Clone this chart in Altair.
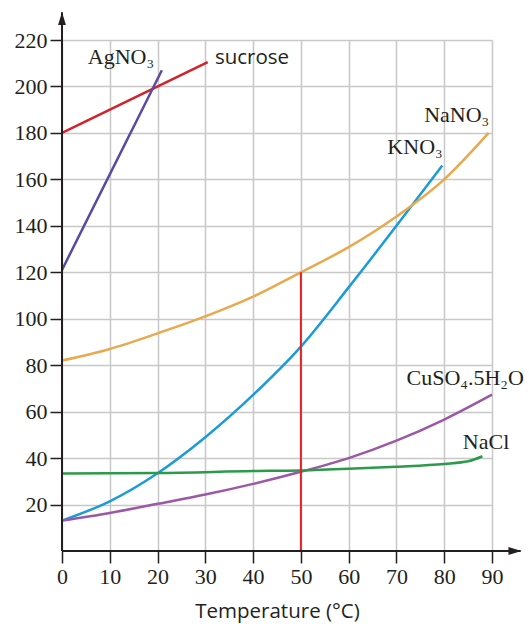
import altair as alt
import pandas as pd

# ---- data ----
sucrose_T = [0, 30.5]
sucrose_S = [180, 210.5]
agno3_T = [0, 20.9]
agno3_S = [121, 207]
kno3_T = [0, 10, 20, 30, 40, 50, 60, 70, 79.6]
kno3_S = [13.1, 21.4, 33.5, 49.0, 67.2, 88, 113.5, 140, 166]
nano3_T = [0, 10, 20, 30, 40, 50, 60, 70, 80, 89.3]
nano3_S = [82, 87, 93.7, 101, 109.5, 120, 130.8, 144, 160, 180]
cuso4_T = [0, 10, 20, 30, 40, 50, 60, 70, 80, 90]
cuso4_S = [13.1, 16.4, 20.3, 24.3, 28.9, 34.1, 40, 47.5, 56.6, 67.3]
nacl_T = [0, 20, 40, 50, 60, 70, 80, 85, 88]
nacl_S = [33.4, 33.6, 34.4, 34.7, 35.4, 36.3, 37.5, 38.6, 40.8]

compounds = ["sucrose", "AgNO3", "KNO3", "NaNO3", "CuSO4.5H2O", "NaCl"]
colors = ["#d3232a", "#5b4b9e", "#1b9bd7", "#e9a94e", "#9b58a6", "#2b9a4a"]

marker_T = [50, 50]
marker_S = [0, 120]

label_text = ["AgNO₃", "NaNO₃", "KNO₃", "CuSO₄.5H₂O", "NaCl"]
label_T = [5.4, 75.8, 68.1, 72.1, 83.9]
label_S = [209.5, 184.9, 171, 71.6, 44.0]
sans_label_text = ["sucrose"]
sans_label_T = [32.0]
sans_label_S = [209.8]

x_ticks = [0, 10, 20, 30, 40, 50, 60, 70, 80, 90]
y_ticks = [20, 40, 60, 80, 100, 120, 140, 160, 180, 200, 220]

# ---- tables ----
series = [
    ("sucrose", sucrose_T, sucrose_S),
    ("AgNO3", agno3_T, agno3_S),
    ("KNO3", kno3_T, kno3_S),
    ("NaNO3", nano3_T, nano3_S),
    ("CuSO4.5H2O", cuso4_T, cuso4_S),
    ("NaCl", nacl_T, nacl_S),
]
rows = []
for name, ts, ss in series:
    for i, (t, s) in enumerate(zip(ts, ss)):
        rows.append({"compound": name, "T": t, "S": s, "i": i})
df = pd.DataFrame(rows)

ink = "#231f20"
xscale = alt.Scale(domain=[0, 90], nice=False, zero=False)
yscale = alt.Scale(domain=[0, 220], nice=False, zero=False)

xaxis = alt.Axis(values=x_ticks, grid=True, gridColor="#c8c8c8", gridWidth=1.5,
                 domain=False, tickColor=ink, tickSize=12, tickWidth=1.5,
                 labelFont="Liberation Serif", labelFontSize=22, labelColor=ink,
                 labelPadding=3, labelFlush=False, labelOverlap=False, format="d",
                 title="Temperature (°C)", titleFont="Open Sans", titleFontSize=20.5,
                 titleFontWeight="normal", titleColor=ink, titlePadding=14)
yaxis = alt.Axis(values=y_ticks, grid=True, gridColor="#c8c8c8", gridWidth=1.5,
                 domain=False, tickColor=ink, tickSize=12, tickWidth=1.5,
                 labelFont="Liberation Serif", labelFontSize=22, labelColor=ink,
                 labelPadding=3, labelFlush=False, labelOverlap=False, format="d",
                 title=None)

X = alt.X("T:Q", scale=xscale, axis=xaxis, title="Temperature (°C)")
Y = alt.Y("S:Q", scale=yscale, axis=yaxis, title=None)

lines = alt.Chart(df).mark_line(strokeWidth=2.5, interpolate="monotone").encode(
    x=X, y=Y,
    color=alt.Color("compound:N", scale=alt.Scale(domain=compounds, range=colors), legend=None),
    order="i:Q",
)

marker_df = pd.DataFrame({"T": [marker_T[0]], "S": [marker_S[0]], "S2": [marker_S[1]]})
marker = alt.Chart(marker_df).mark_rule(color="#e3202a", strokeWidth=2).encode(
    x=X, y=Y, y2="S2:Q")

# axis lines with arrowheads
ax_df = pd.DataFrame({"T": [0, 0], "S": [0, 0], "T2": [0, 96], "S2": [232, 0]})
axes = alt.Chart(ax_df).mark_rule(color=ink, strokeWidth=2).encode(
    x=X, y=Y, x2="T2:Q", y2="S2:Q")
up_df = pd.DataFrame({"T": [0], "S": [229.3]})
right_df = pd.DataFrame({"T": [94.8], "S": [0]})
arrow_up = alt.Chart(up_df).mark_point(
    shape="M0,-1L0.6,1L-0.6,1Z", filled=True, color=ink, opacity=1, size=169, strokeWidth=0
).encode(x=X, y=Y)
arrow_right = alt.Chart(right_df).mark_point(
    shape="M1,0L-1,0.6L-1,-0.6Z", filled=True, color=ink, opacity=1, size=169, strokeWidth=0
).encode(x=X, y=Y)

lab_df = pd.DataFrame({"T": label_T, "S": label_S, "txt": label_text})
labels = alt.Chart(lab_df).mark_text(
    align="left", baseline="alphabetic", font="Liberation Serif", fontSize=22, color=ink
).encode(x=X, y=Y, text="txt:N")
slab_df = pd.DataFrame({"T": sans_label_T, "S": sans_label_S, "txt": sans_label_text})
slabels = alt.Chart(slab_df).mark_text(
    align="left", baseline="alphabetic", font="Open Sans", fontSize=20.5, color=ink
).encode(x=X, y=Y, text="txt:N")

chart = alt.layer(lines, marker, axes, arrow_up, arrow_right, labels, slabels).properties(
    width=430, height=511,
    autosize="none",
    padding={"left": 62, "top": 40, "right": 37, "bottom": 73},
    background="white",
).configure_view(strokeWidth=0)

chart.save("out.html", embed_options={"renderer": "svg", "actions": False})
